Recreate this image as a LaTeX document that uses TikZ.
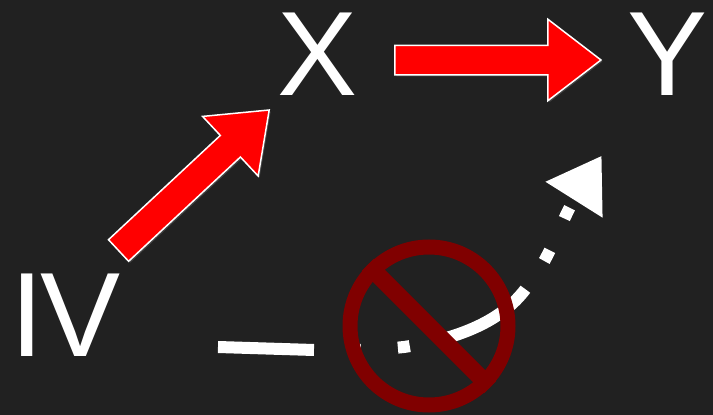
\documentclass[tikz,border=0pt]{standalone}
\usepackage{fontspec}
\setmainfont{Liberation Sans}
\usetikzlibrary{shapes.arrows, arrows.meta, positioning, shadows}
\definecolor{bgdark}{HTML}{212121}
\definecolor{bandred}{HTML}{800000}

\begin{document}
\begin{tikzpicture}[
    x=1pt, y=-1pt,
    lbl/.style={text=white, inner sep=0pt, text height=85pt, text depth=0pt, font=\fontsize{120}{120}\selectfont},
    bigarr/.style={single arrow, draw=white, fill=red, line width=1.5pt, inner sep=14pt, minimum height=206pt, single arrow head extend=26pt, single arrow tip angle=75, drop shadow={shadow xshift=1.5pt, shadow yshift=-1.5pt, opacity=0.35}},
    dasharr/.style={white, line width=12pt, -{Triangle[length=52pt, width=64pt]}, dash pattern=on 96pt off 40pt on 7pt off 37pt on 12pt off 36pt on 96pt off 34pt on 12pt off 35pt on 12pt off 100pt},
    ban/.style={draw=bandred, line width=15pt}
]

\fill[bgdark] (0,0) rectangle (713,415);
\useasboundingbox (0,0) rectangle (713,415);

\node[lbl] (nx) at (318,52.5) {X};
\node[bigarr, right=36pt of nx, yshift=-7.5pt] (a1) {};
\node[lbl, right=25pt of a1, yshift=7.5pt] (ny) {Y};
\node[lbl] (iv) at (65.5,313.5) {I\kern-4pt V};
\node[bigarr, anchor=tail, rotate=43] (a2) at (118,251) {};

\coordinate (gs) at (218,347);
\coordinate (gt) at (601.7,155.7);
\draw[dasharr] (gs) -- (314,350) .. controls (345,351) and (375,350) .. (404,347) .. controls (450,340) and (500,325) .. (527,287) .. controls (552,256) and (560,222) .. (gt);

\node[ban, circle, inner sep=0pt, minimum size=158pt] (nono) at (429,326) {};
\draw[bandred, line width=17pt] (nono.135) -- (nono.-45);

\end{tikzpicture}
\end{document}
